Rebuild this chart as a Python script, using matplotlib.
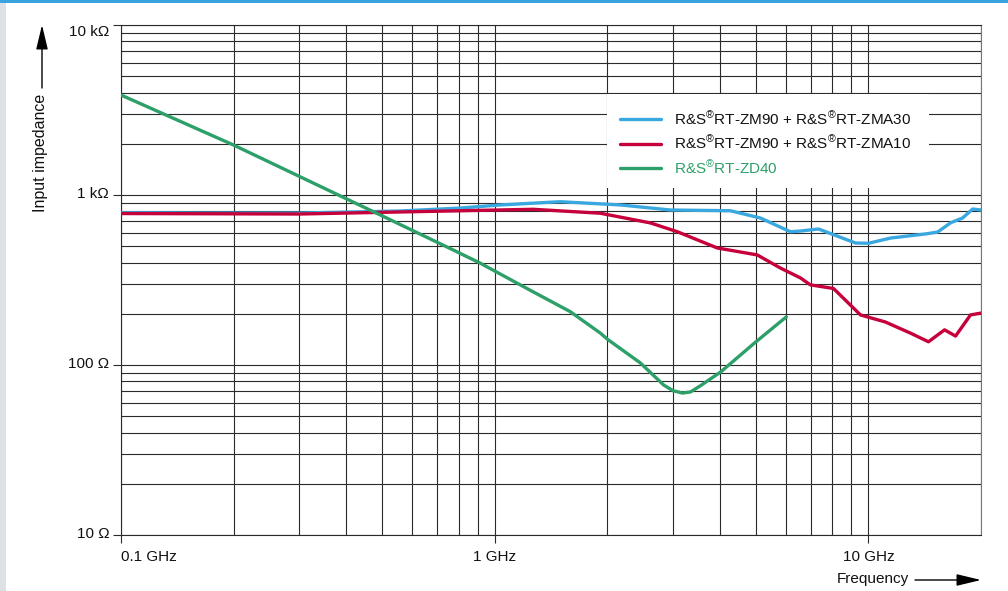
import matplotlib
matplotlib.use("Agg")
import matplotlib.pyplot as plt
from matplotlib.ticker import FixedLocator, NullFormatter
from matplotlib.transforms import ScaledTranslation
from matplotlib.patches import Rectangle

plt.rcParams['font.family'] = ['Liberation Sans', 'DejaVu Sans']
plt.rcParams['mathtext.fontset'] = 'custom'
plt.rcParams['mathtext.rm'] = 'Liberation Sans'
plt.rcParams['mathtext.it'] = 'Liberation Sans'

# Frequency (GHz) and input impedance (ohm) for each probe configuration
zma30_freq = [0.1, 0.163, 0.301, 0.558, 0.808, 1.034, 1.497, 2.17, 2.95, 4.27,
              5.14, 6.18, 6.58, 7.35, 9.23, 10.0, 11.45, 14.2, 15.3, 16.6,
              17.85, 19.0, 20.0]
zma30_imp = [787, 783, 783, 805, 838, 874, 913, 874, 816, 808,
             732, 608, 614, 631, 522, 520, 558, 590, 605, 687,
             732, 827, 816]

zma10_freq = [0.1, 0.301, 0.613, 1.268, 1.917, 2.61, 3.08, 3.94, 5.04, 5.81,
              6.58, 6.99, 8.06, 9.52, 11.1, 12.95, 14.47, 15.98, 17.1, 18.75,
              20.0]
zma10_imp = [778, 773, 798, 824, 781, 685, 608, 488, 444, 372,
             325, 296, 282, 197, 179, 154, 137, 161, 148, 197,
             202]

zd40_freq = [0.1, 0.2, 0.494, 0.774, 0.915, 1.245, 1.592, 1.917, 2.0, 2.45,
             2.83, 3.0, 3.18, 3.34, 3.55, 4.02, 4.98, 6.03]
zd40_imp = [3873, 1968, 763, 475, 397, 275, 206, 154, 142, 103,
            76.3, 70.6, 68.4, 69.4, 75.5, 90.9, 136, 192]

series_labels = ["R&S$^{®}$RT-ZM90 + R&S$^{®}$RT-ZMA30",
                 "R&S$^{®}$RT-ZM90 + R&S$^{®}$RT-ZMA10",
                 "R&S$^{®}$RT-ZD40"]
series_colors = ["#39a8e0", "#c6003b", "#2da069"]

x_ticks = [0.1, 1, 10]
x_tick_labels = ["0.1 GHz", "1 GHz", "10 GHz"]
y_ticks = [10, 100, 1000, 10000]
y_tick_labels = ["10 Ω", "100 Ω", "1 kΩ", "10 kΩ"]

W, H = 1008, 591
fig = plt.figure(figsize=(W / 100, H / 100), dpi=100)
fig.patch.set_facecolor("white")

# page decorations: grey margin strip at left and blue rule on top
fig.add_artist(Rectangle((0, 0), 6 / W, 1, transform=fig.transFigure,
                         facecolor="#dde1e6", edgecolor="none", zorder=0))
fig.add_artist(Rectangle((0, 1 - 2.5 / H), 1, 2.5 / H, transform=fig.transFigure,
                         facecolor="#39a3e0", edgecolor="none", zorder=0))

left, right, top, bottom = 121, 981, 25, 535
ax = fig.add_axes([left / W, 1 - bottom / H, (right - left) / W, (bottom - top) / H])
ax.set_xscale("log")
ax.set_yscale("log")
ax.set_xlim(0.1, 20)
ax.set_ylim(10, 10000)

grid_kw = dict(color="#2a2a2a", lw=0.8)
ax.grid(True, which="major", **grid_kw)
ax.grid(True, which="minor", **grid_kw)
ax.set_axisbelow(True)

for (fx, zy, lab, col) in zip([zma30_freq, zma10_freq, zd40_freq],
                              [zma30_imp, zma10_imp, zd40_imp],
                              series_labels, series_colors):
    ax.plot(fx, zy, color=col, lw=2.4, label=lab, solid_capstyle="round",
            solid_joinstyle="round", zorder=3)

ax.xaxis.set_major_locator(FixedLocator(x_ticks))
ax.set_xticklabels(x_tick_labels)
ax.yaxis.set_major_locator(FixedLocator(y_ticks))
ax.set_yticklabels(y_tick_labels)
ax.xaxis.set_minor_formatter(NullFormatter())
ax.yaxis.set_minor_formatter(NullFormatter())
ax.tick_params(which="minor", length=0)
ax.tick_params(which="major", direction="out", length=6, width=0.8,
               color="#2a2a2a", labelsize=11, labelcolor="#111111")
ax.tick_params(axis="x", which="major", pad=5)
ax.tick_params(axis="y", which="major", pad=2.5)

for sp in ax.spines.values():
    sp.set_color("#2a2a2a")
    sp.set_linewidth(0.8)
ax.spines["right"].set_color("#777777")

xl = ax.get_xticklabels()
xl[0].set_ha("left")

# tick labels sit a touch above their gridline; the top one is nudged down
for lab, val in zip(ax.get_yticklabels(), y_ticks):
    dy = -6 / 72 if val == 10000 else 3 / 72
    lab.set_transform(lab.get_transform() + ScaledTranslation(0, dy * 0.72, fig.dpi_scale_trans))

# white panel behind the legend, hiding the grid there
ax.add_patch(Rectangle((607 / W, 1 - 187.5 / H), (929 - 607) / W, (187.5 - 93.5) / H,
                       transform=fig.transFigure, facecolor="white",
                       edgecolor="none", zorder=4))
leg = ax.legend(loc="upper left", bbox_to_anchor=(620 / W, 1 - 110 / H),
                bbox_transform=fig.transFigure, borderaxespad=0, borderpad=0,
                fontsize=11, handlelength=2.7, handletextpad=0.85,
                labelspacing=0.45, frameon=False)
leg.set_zorder(5)
for line in leg.get_lines():
    line.set_linewidth(2.4)
for txt, col in zip(leg.get_texts(), ["#111111", "#111111", series_colors[2]]):
    txt.set_color(col)

# axis titles with arrows
fig.text(40 / W, 1 - 153 / H, "Input impedance", rotation=90, ha="center",
         va="center", fontsize=11.5, color="#111111")
ax.annotate("", xy=(42, H - 25), xytext=(42, H - 88), xycoords="figure pixels",
            textcoords="figure pixels",
            arrowprops=dict(arrowstyle="-|>,head_length=1.5,head_width=0.36",
                            color="black", lw=1.0, shrinkA=0, shrinkB=0))
fig.text(909 / W, 1 - 579 / H, "Frequency", ha="right", va="center",
         fontsize=11, color="#111111")
ax.annotate("", xy=(981, H - 580), xytext=(915, H - 580), xycoords="figure pixels",
            textcoords="figure pixels",
            arrowprops=dict(arrowstyle="-|>,head_length=1.5,head_width=0.36",
                            color="black", lw=1.0, shrinkA=0, shrinkB=0))

fig.savefig("out.png", dpi=100)
